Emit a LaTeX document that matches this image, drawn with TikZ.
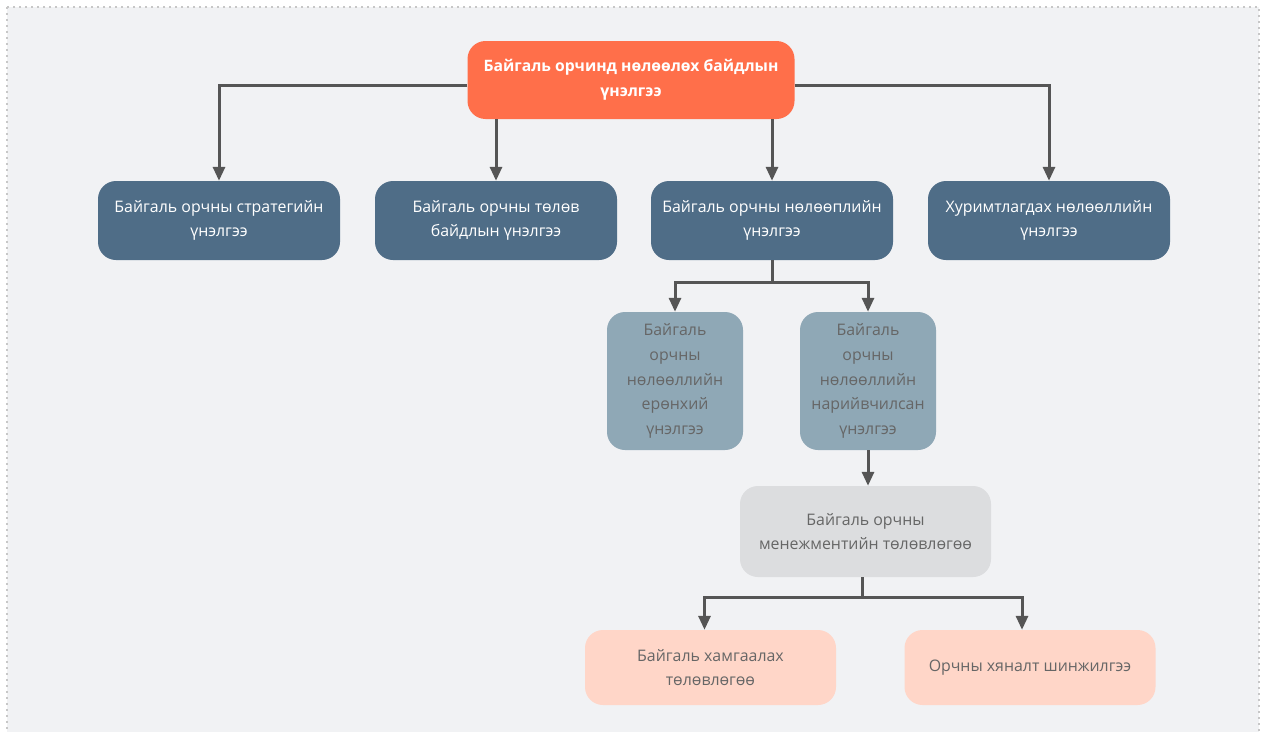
\documentclass[tikz,border=0pt]{standalone}
\usepackage{fontspec}
\setmainfont{Open Sans}
\usetikzlibrary{arrows.meta}
\definecolor{bgcol}{HTML}{F1F2F4}
\definecolor{rootcol}{HTML}{FF6F4A}
\definecolor{stagecol}{HTML}{4F6D87}
\definecolor{subcol}{HTML}{8FA8B6}
\definecolor{plancol}{HTML}{DCDDDF}
\definecolor{actcol}{HTML}{FFD6C8}
\definecolor{linkcol}{HTML}{555555}
\definecolor{softtext}{HTML}{666666}
\begin{document}
\begin{tikzpicture}[x=1pt, y=-1pt,
    box/.style={rounded corners=18pt, align=center, inner sep=0pt, font=\fontsize{15.9}{24.6}\selectfont},
    rootbox/.style={box, fill=rootcol, text=white, minimum width=327pt, minimum height=78pt, font=\fontsize{15.7}{25}\selectfont\bfseries},
    stagebox/.style={box, fill=stagecol, text=white, minimum width=242pt, minimum height=79pt},
    subbox/.style={box, fill=subcol, text=softtext, minimum width=136pt, minimum height=138pt},
    planbox/.style={box, fill=plancol, text=softtext, minimum width=251pt, minimum height=91pt},
    actbox/.style={box, fill=actcol, text=softtext, minimum width=251pt, minimum height=75pt},
    link/.style={draw=linkcol, line width=3pt, -{Triangle[width=12pt,length=14pt]}}]
        % Background and frame
        \useasboundingbox (0,0) rectangle (1261,731);
        \fill[white] (0,0) rectangle (1261,731);
        \fill[bgcol] (7,7) rectangle (1259,736);
        \draw[black!22, line width=1.5pt, dash pattern=on 2pt off 4pt] (7,7) rectangle (1259,736);
        % Draw the nodes
        \node[rootbox] (root) at (631,80) {Байгаль орчинд нөлөөлөх байдлын\\үнэлгээ};
        \node[stagebox] (s1) at (219,220.5) {Байгаль орчны стратегийн\\үнэлгээ};
        \node[stagebox] (s2) at (496,220.5) {Байгаль орчны төлөв\\байдлын үнэлгээ};
        \node[stagebox] (s3) at (772,220.5) {Байгаль орчны нөлөөплийн\\үнэлгээ};
        \node[stagebox] (s4) at (1049,220.5) {Хуримтлагдах нөлөөллийн\\үнэлгээ};
        \node[subbox] (e1) at (675,381) {Байгаль\\орчны\\нөлөөллийн\\ерөнхий\\үнэлгээ};
        \node[subbox] (e2) at (868,381) {Байгаль\\орчны\\нөлөөллийн\\нарийвчилсан\\үнэлгээ};
        \node[planbox] (m) at (865.5,531.5) {Байгаль орчны\\менежментийн төлөвлөгөө};
        \node[actbox] (p1) at (710.5,667.5) {Байгаль хамгаалах\\төлөвлөгөө};
        \node[actbox] (p2) at (1030,667.5) {Орчны хяналт шинжилгээ};
        % Draw the connections from the root
        \draw[link] ([yshift=-5pt]root.west) -| (s1.north);
        \draw[link] (s2.north |- root.south) -- (s2.north);
        \draw[link] (s3.north |- root.south) -- (s3.north);
        \draw[link] ([yshift=-5pt]root.east) -| (s4.north);
        % Draw the impact assessment branch
        \coordinate (j1) at ([yshift=-22pt]s3.south);
        \draw[link] (s3.south) -- (j1) -| (e1.north);
        \draw[link] (j1) -| (e2.north);
        \draw[link] (e2.south) -- (e2.south |- m.north);
        % Draw the plan branch
        \coordinate (j2) at ([xshift=-3pt, yshift=-20pt]m.south);
        \draw[link] ([xshift=-3pt]m.south) -- (j2) -| ([xshift=-6pt]p1.north);
        \draw[link] (j2) -| ([xshift=-8pt]p2.north);
    \end{tikzpicture}
\end{document}
